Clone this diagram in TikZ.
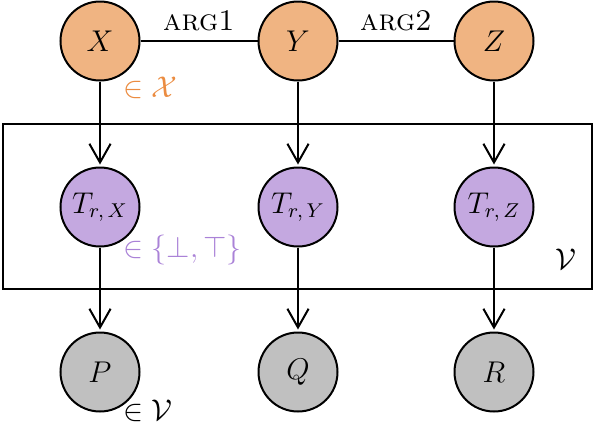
\documentclass[tikz,border=0pt]{standalone}
\usepackage{amsmath}
\usepackage{amssymb}
\usepackage{tikz}
\usetikzlibrary{positioning,arrows.meta}

\definecolor{argfill}{RGB}{240,180,130}
\definecolor{argtext}{RGB}{235,140,65}
\definecolor{truthfill}{RGB}{196,168,224}
\definecolor{truthtext}{RGB}{170,130,215}
\definecolor{wordfill}{RGB}{192,192,192}

\begin{document}
\begin{tikzpicture}[x=0.4pt, y=-0.4pt, font=\fontsize{12}{14.5}\selectfont,
        var/.style={circle, draw, line width=0.8pt, minimum size=31.6pt, inner sep=0pt},
        argvar/.style={var, fill=argfill},
        truthvar/.style={var, fill=truthfill},
        wordvar/.style={var, fill=wordfill},
        link/.style={line width=0.8pt},
        flow/.style={link, -{Straight Barb[length=7.5pt, width=8.5pt]}, shorten >=0.8pt},
        rangelabel/.style={anchor=west, inner sep=0pt}]
        \def\xa{100}  % column X
        \def\xb{298}  % column Y
        \def\xc{494}  % column Z
        \def\ya{41}   % top row
        \def\yb{207}  % middle row
        \def\yc{372}  % bottom row

        \useasboundingbox (0,0) rectangle (594,428);

        % Plate
        \draw[line width=0.8pt] (2.5,124) rectangle (591.5,289);
        \node (plate) at (566,259) {\( \mathcal{V} \)};

        % Arguments
        \node[argvar] (X) at (\xa,\ya) {\( X \)};
        \node[argvar] (Y) at (\xb,\ya) {\( Y \)};
        \node[argvar] (Z) at (\xc,\ya) {\( Z \)};
        \draw[link] (X) -- node[above=0.5pt] {\textsc{arg1}} (Y);
        \draw[link] (Y) -- node[above=0.5pt] {\textsc{arg2}} (Z);

        % Truth values
        \node[truthvar] (TX) at (\xa,\yb) {\( T_{r,\,X} \)};
        \node[truthvar] (TY) at (\xb,\yb) {\( T_{r,\,Y} \)};
        \node[truthvar] (TZ) at (\xc,\yb) {\( T_{r,\,Z} \)};

        % Words
        \node[wordvar] (P) at (\xa,\yc) {\( P \)};
        \node[wordvar] (Q) at (\xb,\yc) {\( Q \)};
        \node[wordvar] (R) at (\xc,\yc) {\( R \)};

        % Edges
        \draw[flow] (X) -- (TX);
        \draw[flow] (Y) -- (TY);
        \draw[flow] (Z) -- (TZ);
        \draw[flow] (TX) -- (P);
        \draw[flow] (TY) -- (Q);
        \draw[flow] (TZ) -- (R);

        % Domains
        \node[rangelabel, text=argtext] (domX) at (123,88) {\( \in \mathcal{X} \)};
        \node[rangelabel, text=truthtext] (domT) at (123,250) {\( \in \{\bot, \top\} \)};
        \node[rangelabel] (domV) at (123,411) {\( \in \mathcal{V} \)};
\end{tikzpicture}
\end{document}
